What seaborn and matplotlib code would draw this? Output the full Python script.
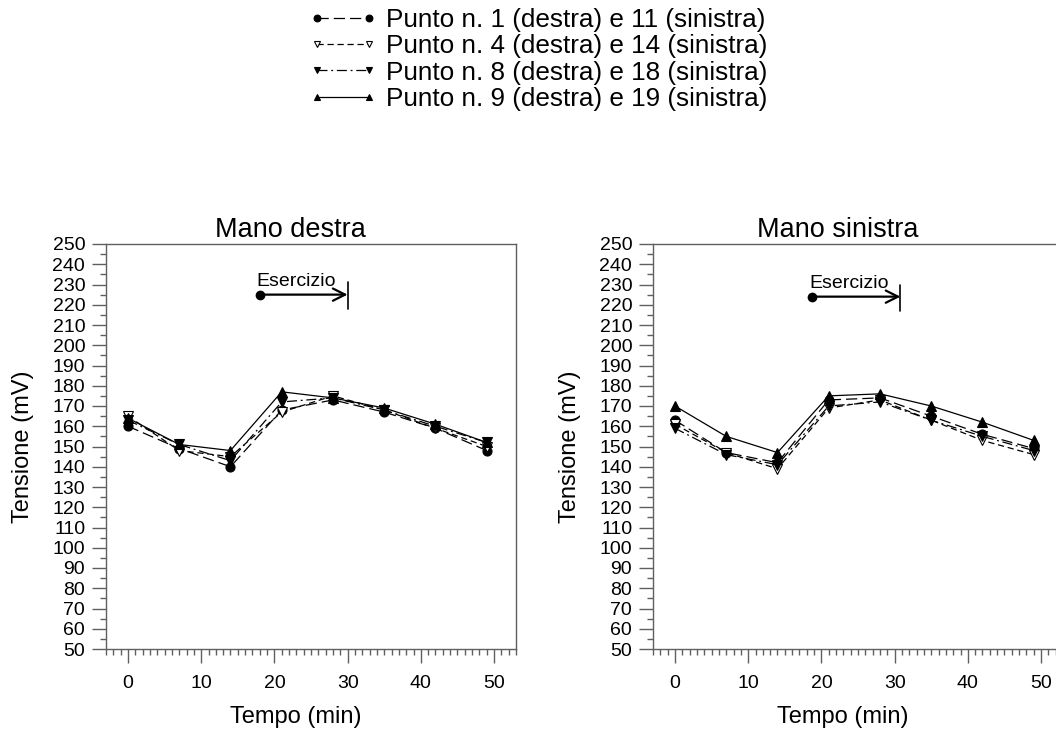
import numpy as np
import pandas as pd
import matplotlib
matplotlib.use("Agg")
import matplotlib.pyplot as plt
import seaborn as sns
from matplotlib.ticker import MultipleLocator

sns.set_theme(style="white")
plt.rcParams['font.family'] = ['Liberation Sans', 'DejaVu Sans']
plt.rcParams['text.color'] = 'black'
plt.rcParams['axes.labelcolor'] = 'black'
plt.rcParams['xtick.color'] = 'black'
plt.rcParams['ytick.color'] = 'black'

# ---- data ----
tempo = [0, 7, 14, 21, 28, 35, 42, 49]
series_labels = [
    "Punto n. 1 (destra) e 11 (sinistra)",
    "Punto n. 4 (destra) e 14 (sinistra)",
    "Punto n. 8 (destra) e 18 (sinistra)",
    "Punto n. 9 (destra) e 19 (sinistra)",
]
destra_p1 = [160, 149, 140, 168, 173, 167, 159, 148]
destra_p4 = [165, 148, 145, 167, 175, 168, 159, 150]
destra_p8 = [163, 151, 143, 172, 174, 168, 160, 152]
destra_p9 = [164, 151, 148, 177, 174, 169, 161, 152]

sinistra_p1 = [163, 147, 142, 173, 174, 165, 156, 149]
sinistra_p4 = [161, 147, 139, 169, 173, 163, 153, 146]
sinistra_p8 = [159, 146, 141, 170, 172, 163, 155, 148]
sinistra_p9 = [170, 155, 147, 175, 176, 170, 162, 153]

titles = ["Mano destra", "Mano sinistra"]
# exercise annotation: start, end (min) and level (mV)
eserc_start = [18, 18.7]
eserc_end = [30, 30.8]
eserc_level = [225, 224]

# ---- styles ----
styles = [
    dict(marker='o', mfc='black', ls=(0, (9, 4))),
    dict(marker='v', mfc='white', ls=(0, (5, 3))),
    dict(marker='v', mfc='black', ls=(0, (8, 3, 1.5, 3))),
    dict(marker='^', mfc='black', ls='-'),
]

fig = plt.figure(figsize=(10.56, 7.31), dpi=100)
W, H = 1056, 731
ax1 = fig.add_axes([106 / W, 1 - 649 / H, 410 / W, 405 / H])
ax2 = fig.add_axes([653 / W, 1 - 649 / H, 410 / W, 405 / H])

spine_col = '#606060'
data_sets = [
    [destra_p1, destra_p4, destra_p8, destra_p9],
    [sinistra_p1, sinistra_p4, sinistra_p8, sinistra_p9],
]

for k, (ax, ds) in enumerate(zip([ax1, ax2], data_sets)):
    for i, (vals, st) in enumerate(zip(ds, styles)):
        df = pd.DataFrame({"Tempo": tempo, "Tensione": vals})
        sns.lineplot(data=df, x="Tempo", y="Tensione", ax=ax, color='black',
                     marker=st['marker'], markerfacecolor=st['mfc'],
                     markeredgecolor='black', markeredgewidth=0.8,
                     markersize=6.5, linewidth=0.9, linestyle=st['ls'],
                     label=series_labels[i] if k == 0 else None, legend=False)
    ax.set_xlim(-3, 53)
    ax.set_ylim(50, 250)
    ax.xaxis.set_major_locator(MultipleLocator(10))
    ax.xaxis.set_minor_locator(MultipleLocator(1))
    ax.yaxis.set_major_locator(MultipleLocator(10))
    ax.yaxis.set_minor_locator(MultipleLocator(5))
    ax.tick_params(axis='both', which='major', direction='out', length=10,
                   width=1, color=spine_col, labelcolor='black', labelsize=14, pad=5,
                   bottom=True, left=True, top=False, right=False)
    ax.tick_params(axis='both', which='minor', direction='out', length=4,
                   width=1, color=spine_col,
                   bottom=True, left=True, top=False, right=False)
    ax.tick_params(axis='x', which='major', pad=9)
    for sp in ax.spines.values():
        sp.set_color(spine_col)
        sp.set_linewidth(1)
        sp.set_visible(True)
    ax.set_xlabel("Tempo (min)", fontsize=17)
    ax.xaxis.set_label_coords(0.463, -0.14)
    ax.set_ylabel("Tensione (mV)", fontsize=17)
    ax.yaxis.set_label_coords(-0.175, 0.5)
    ax.set_title(titles[k], fontsize=19.5, x=0.45, pad=5)
    ax.grid(False)

    # exercise annotation
    ax.annotate("", xy=(eserc_end[k], eserc_level[k]),
                xytext=(eserc_start[k], eserc_level[k]),
                arrowprops=dict(arrowstyle='->', color='black', lw=1.6,
                                mutation_scale=22, shrinkA=0, shrinkB=0))
    ax.plot([eserc_start[k]], [eserc_level[k]], 'o', color='black', markersize=6)
    ax.plot([eserc_end[k], eserc_end[k]], [eserc_level[k] - 7, eserc_level[k] + 6],
            color='black', lw=1.2)
    ax.text((eserc_start[k] + eserc_end[k]) / 2 - 1.0, eserc_level[k] + 2.5, "Esercizio",
            ha='center', va='bottom', fontsize=14)

h, l = ax1.get_legend_handles_labels()
leg = fig.legend(h, l, loc='upper center', bbox_to_anchor=(0.51, 1.0),
                 frameon=False, fontsize=18.8, numpoints=2, handlelength=2.6,
                 markerscale=0.75, labelspacing=0.09, handletextpad=0.35,
                 borderaxespad=0, borderpad=0.3)

fig.savefig("out.png", dpi=100)
